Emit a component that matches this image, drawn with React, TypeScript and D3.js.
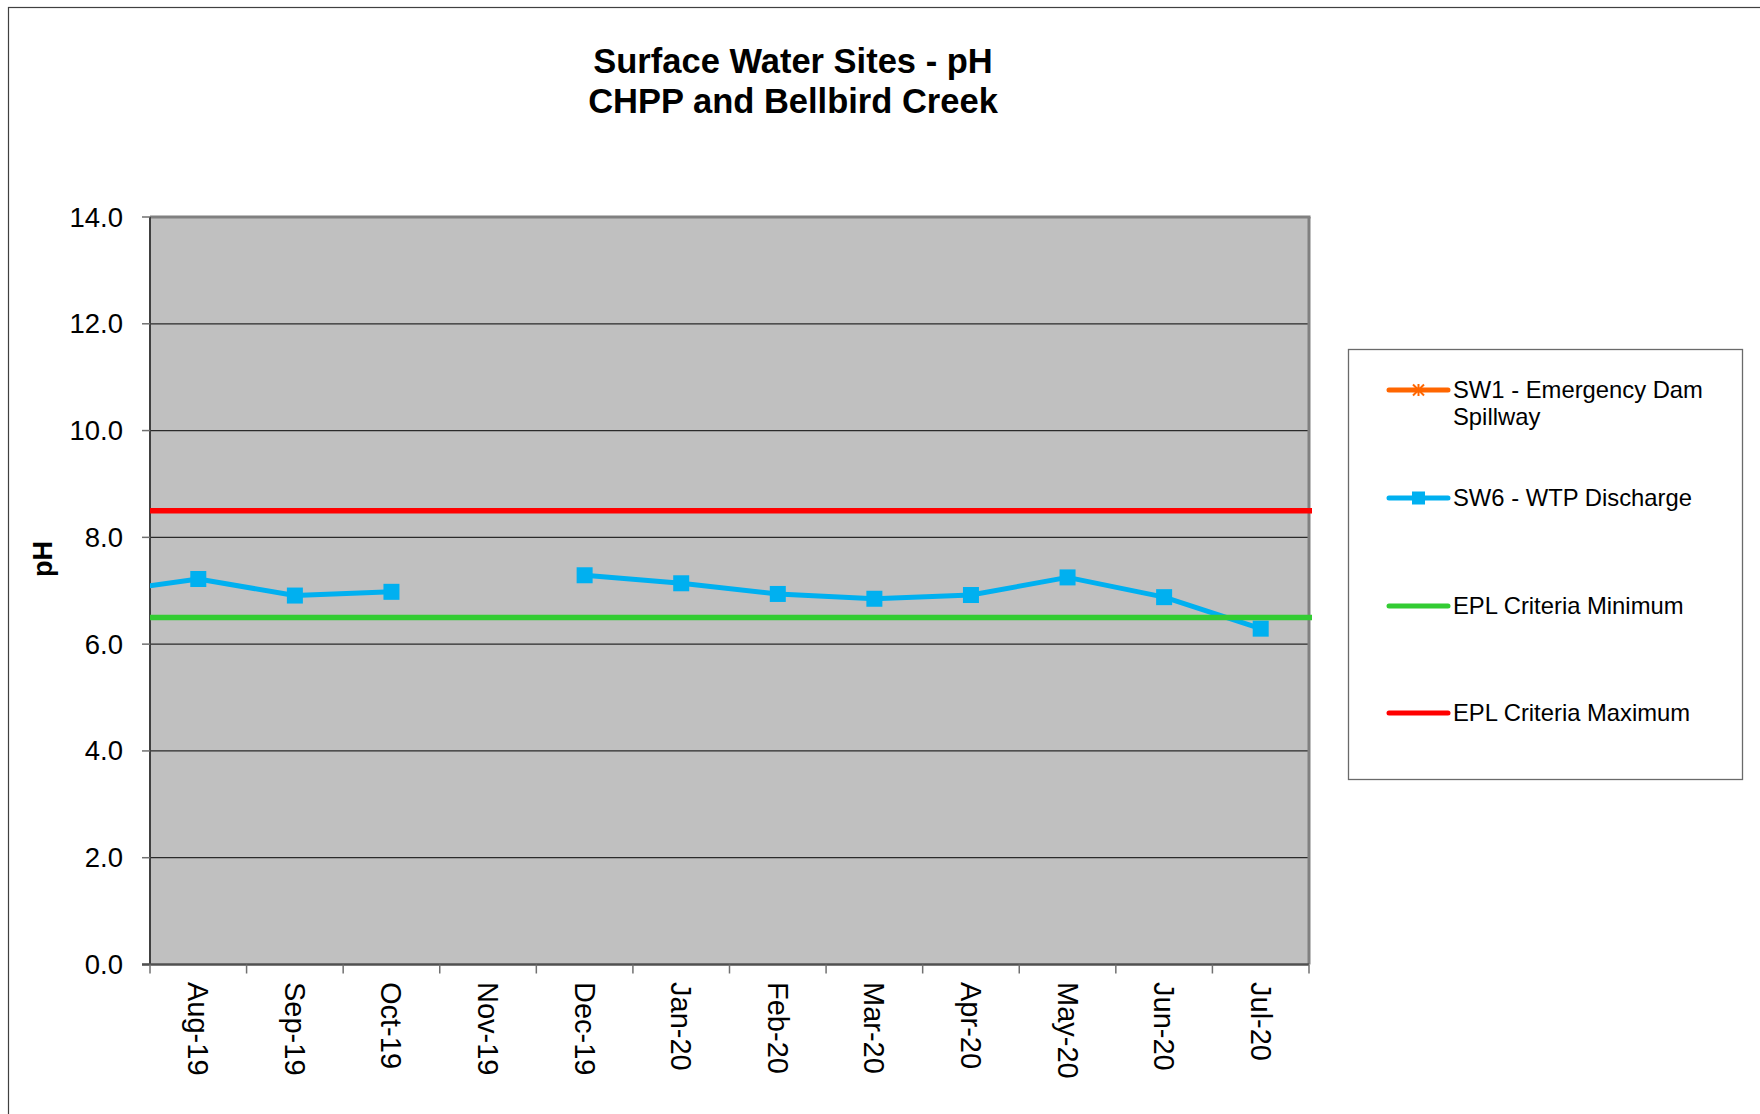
import React from "react";
import * as d3 from "d3";

// chart values
const months = ["Aug-19", "Sep-19", "Oct-19", "Nov-19", "Dec-19", "Jan-20", "Feb-20", "Mar-20", "Apr-20", "May-20", "Jun-20", "Jul-20"];
const sw6Values: (number | null)[] = [7.22, 6.91, 6.98, null, 7.29, 7.14, 6.94, 6.85, 6.92, 7.25, 6.88, 6.29];
const sw1Values: (number | null)[] = [null, null, null, null, null, null, null, null, null, null, null, null];
// month before the window, only its line segment shows at the left edge
const priorMonth = "Jul-19";
const priorSw6 = 6.97;
const eplMinimum = 6.5;
const eplMaximum = 8.5;
const yTicks = [0, 2, 4, 6, 8, 10, 12, 14];
const legendLabels = [["SW1 - Emergency Dam", "Spillway"], ["SW6 - WTP Discharge"], ["EPL Criteria Minimum"], ["EPL Criteria Maximum"]];
const titleLines = ["Surface Water Sites - pH", "CHPP and Bellbird Creek"];

const FONT = "'Liberation Sans', Arial, Helvetica, sans-serif";
const BLUE = "#00B0F0";
const GREEN = "#33CC33";
const RED = "#FF0000";
const ORANGE = "#FF6600";

export default function App() {
  const W = 1760, H = 1114;
  const plot = { left: 150, right: 1309, top: 217, bottom: 964.5 };

  const x = d3.scaleBand<string>().domain(months).range([plot.left, plot.right]).padding(0);
  const y = d3.scaleLinear().domain([0, 14]).range([plot.bottom, plot.top]);
  const bw = x.bandwidth();
  const cx = (m: string) => (m === priorMonth ? (x(months[0]) as number) - bw / 2 : (x(m) as number) + bw / 2);

  const sw6Points = [{ m: priorMonth, v: priorSw6 as number | null }].concat(months.map((m, i) => ({ m, v: sw6Values[i] })));
  const line = d3.line<{ m: string; v: number | null }>()
    .defined((d) => d.v != null)
    .x((d) => cx(d.m))
    .y((d) => y(d.v as number));

  const sw1Points = months.map((m, i) => ({ m, v: sw1Values[i] }));

  const boundaries = months.map((m) => x(m) as number).concat([plot.right]);

  const legend = { x: 1348.5, y: 349.5, w: 394, h: 430 };
  const legendRows = [390, 498, 606, 713];
  const sampleX1 = 1389, sampleX2 = 1448, textX = 1453;

  return (
    <svg width={W} height={H} style={{ position: "absolute", left: 0, top: 0, background: "#fff" }} fontFamily={FONT}>
      <defs>
        <clipPath id="plotClip">
          <rect x={plot.left} y={plot.top} width={plot.right - plot.left} height={plot.bottom - plot.top} />
        </clipPath>
      </defs>
      {/* outer chart frame, only top and left edges are inside the picture */}
      <rect x={8.5} y={7.5} width={2000} height={2000} fill="#fff" stroke="#404040" strokeWidth={1.2} />

      {titleLines.map((t, i) => (
        <text key={t} x={793} y={73 + i * 39.5} textAnchor="middle" fontSize={34.5} fontWeight="bold" fill="#000">{t}</text>
      ))}

      {/* plot area */}
      <rect x={plot.left} y={plot.top} width={plot.right - plot.left} height={plot.bottom - plot.top} fill="#C0C0C0" />
      {yTicks.filter((t) => t > 0 && t < 14).map((t) => (
        <line key={t} x1={plot.left} x2={plot.right} y1={y(t)} y2={y(t)} stroke="#2a2a2a" strokeWidth={1.3} />
      ))}
      <line x1={plot.left} x2={plot.right + 1.5} y1={plot.top} y2={plot.top} stroke="#808080" strokeWidth={3} />
      <line x1={plot.right} x2={plot.right} y1={plot.top} y2={plot.bottom} stroke="#808080" strokeWidth={3} />

      {/* y axis */}
      <line x1={plot.left} x2={plot.left} y1={plot.top} y2={plot.bottom} stroke="#404040" strokeWidth={2} />
      {yTicks.map((t) => (
        <g key={t}>
          <line x1={plot.left - 8} x2={plot.left} y1={y(t)} y2={y(t)} stroke="#707070" strokeWidth={1.5} />
          <text x={123} y={y(t)} textAnchor="end" dominantBaseline="central" fontSize={27.5} fill="#000">{t.toFixed(1)}</text>
        </g>
      ))}
      <text transform={`translate(43,559) rotate(-90)`} textAnchor="middle" dominantBaseline="central" fontSize={27} fontWeight="bold" fill="#000">pH</text>

      {/* x axis */}
      <line x1={plot.left - 8} x2={plot.right} y1={plot.bottom} y2={plot.bottom} stroke="#505050" strokeWidth={2.5} />
      {boundaries.map((b, i) => (
        <line key={i} x1={b} x2={b} y1={plot.bottom} y2={plot.bottom + 9} stroke="#707070" strokeWidth={1.5} />
      ))}
      {months.map((m) => (
        <text key={m} transform={`translate(${cx(m)},982) rotate(90)`} textAnchor="start" dominantBaseline="central" fontSize={29} fill="#000">{m}</text>
      ))}

      {/* series */}
      <g clipPath="url(#plotClip)">
        <path d={line(sw1Points) || ""} fill="none" stroke={ORANGE} strokeWidth={5} />
        <path d={line(sw6Points) || ""} fill="none" stroke={BLUE} strokeWidth={5} strokeLinejoin="round" />
        {sw6Points.filter((d) => d.v != null).map((d) => (
          <rect key={d.m} x={cx(d.m) - 8} y={y(d.v as number) - 8} width={16} height={16} fill={BLUE} />
        ))}
      </g>
      <line x1={plot.left} x2={plot.right + 3} y1={y(eplMinimum)} y2={y(eplMinimum)} stroke={GREEN} strokeWidth={5.5} />
      <line x1={plot.left} x2={plot.right + 3} y1={y(eplMaximum)} y2={y(eplMaximum)} stroke={RED} strokeWidth={5.5} />

      {/* legend */}
      <rect x={legend.x} y={legend.y} width={legend.w} height={legend.h} fill="#fff" stroke="#6a6a6a" strokeWidth={1.3} />
      {legendRows.map((ry, i) => {
        const color = [ORANGE, BLUE, GREEN, RED][i];
        const mid = (sampleX1 + sampleX2) / 2;
        return (
          <g key={i}>
            <line x1={sampleX1} x2={sampleX2} y1={ry} y2={ry} stroke={color} strokeWidth={5} strokeLinecap="round" />
            {i === 0 && (
              <g stroke={ORANGE} strokeWidth={2}>
                <line x1={mid} x2={mid} y1={ry - 6} y2={ry + 6} />
                <line x1={mid - 5.5} x2={mid + 5.5} y1={ry - 5.5} y2={ry + 5.5} />
                <line x1={mid - 5.5} x2={mid + 5.5} y1={ry + 5.5} y2={ry - 5.5} />
              </g>
            )}
            {i === 1 && <rect x={mid - 6.5} y={ry - 6.5} width={13} height={13} fill={BLUE} />}
            {legendLabels[i].map((t, j) => (
              <text key={t} x={textX} y={ry - 1 + j * 27} dominantBaseline="central" fontSize={23.8} fill="#000">{t}</text>
            ))}
          </g>
        );
      })}
    </svg>
  );
}
